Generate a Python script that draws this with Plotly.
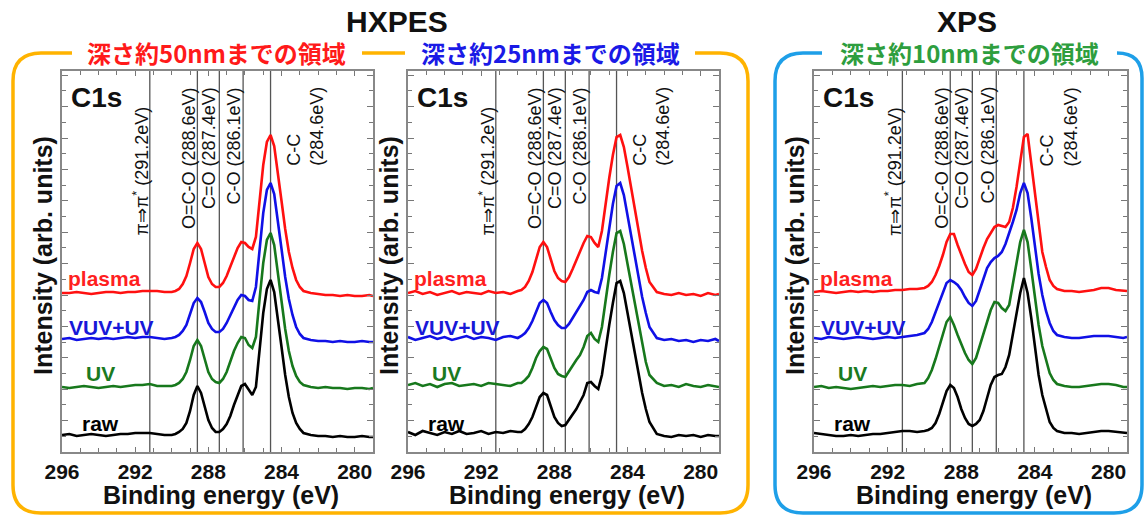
import plotly.graph_objects as go

W, H = 1146, 517

# ---------------- data ----------------
energy = [296.0, 295.6, 295.2, 294.8, 294.4, 294.0, 293.6, 293.2, 292.8, 292.4, 292.0, 291.6, 291.2, 290.8, 290.4, 290.0,
          289.8, 289.6, 289.4, 289.2, 289.0, 288.8, 288.6, 288.4, 288.2, 288.0, 287.8, 287.6, 287.4, 287.2, 287.0, 286.8,
          286.6, 286.4, 286.2, 286.0, 285.8, 285.6, 285.4, 285.2, 285.0, 284.8, 284.6, 284.4, 284.2, 284.0, 283.8, 283.6,
          283.4, 283.2, 283.0, 282.8,
          282.4, 282.0, 281.6, 281.2, 280.8, 280.4, 280.0, 279.6, 279.2, 279.0]

series_names = ["raw", "UV", "VUV+UV", "plasma"]

# HXPES, depth ~50 nm
hx50_raw = [0, 1, -1, 0, 1, 0, -1, 0, 1, 1, 2, 2, 2, 1, 0, 0,
            1, 3, 6, 12, 24, 40, 49, 42, 28, 15, 7, 3, 3, 6, 11, 19,
            30, 40, 49, 51, 46, 40, 48, 85, 122, 146, 155, 143, 118, 88, 60, 38,
            22, 12, 6, 2,
            0, -1, -1, -2, -1, -2, -2, -1, -2, -2]
hx50_uv = [0, -1, 0, 1, 0, -1, 0, 1, 0, 1, 2, 2, 3, 1, 1, 1,
           2, 4, 8, 15, 27, 41, 47, 41, 28, 15, 8, 5, 4, 8, 15, 26,
           36, 44, 50, 49, 42, 39, 50, 88, 124, 147, 154, 142, 116, 86, 58, 36,
           21, 11, 5, 2,
           0, -1, 0, -1, -1, -2, -1, -1, -2, -1]
hx50_vuv = [0, 1, -1, 0, 1, 0, 1, 0, 1, 2, 1, 2, 2, 1, 0, 1,
            2, 4, 8, 14, 24, 36, 41, 37, 27, 16, 10, 7, 7, 10, 16, 24,
            32, 39, 44, 43, 39, 38, 52, 90, 126, 149, 156, 145, 120, 90, 62, 40,
            24, 12, 5, 1,
            -1, -2, -2, -3, -2, -3, -3, -2, -3, -3]
hx50_plasma = [0, 0, 1, 0, -1, 0, 1, 1, 0, 1, 1, 2, 2, 2, 1, 1,
               2, 4, 9, 17, 30, 44, 50, 44, 30, 16, 9, 6, 6, 10, 17, 27,
               37, 45, 51, 50, 46, 44, 56, 92, 128, 151, 158, 147, 122, 92, 64, 41,
               25, 13, 6, 2,
               0, -1, -2, -2, -3, -2, -3, -3, -2, -3]

# HXPES, depth ~25 nm
hx25_raw = [1, -2, 2, 0, -2, 1, -1, 2, -1, 0, 2, -1, 1, 0, 2, 1,
            1, 4, 9, 16, 26, 36, 40, 38, 27, 16, 10, 7, 8, 13, 18, 24,
            31, 38, 50, 51, 47, 44, 58, 84, 108, 130, 150, 152, 140, 120, 100, 79,
            58, 40, 24, 11,
            -1, -3, -4, -2, -3, -2, -4, -2, -3, -3]
hx25_uv = [0, 2, -1, 1, -2, 1, 2, -1, 0, 1, -1, 2, 1, 0, -1, 2,
           2, 5, 9, 17, 27, 34, 38, 36, 26, 17, 11, 9, 8, 14, 20, 25,
           30, 38, 49, 52, 46, 43, 58, 85, 110, 133, 152, 154, 141, 121, 101, 80,
           59, 40, 23, 10,
           2, -1, 0, -2, 1, -1, -2, 0, -1, -2]
hx25_vuv = [1, -2, 0, 2, -1, 1, -2, 0, 2, -1, 1, 0, -2, 1, 2, 0,
            2, 5, 10, 17, 27, 35, 38, 35, 26, 18, 13, 10, 10, 14, 20, 26,
            32, 38, 46, 48, 46, 45, 60, 86, 111, 134, 152, 155, 143, 123, 102, 81,
            60, 41, 25, 11,
            0, -2, -1, -3, -2, -4, -2, -3, -1, -3]
hx25_plasma = [0, 2, -1, 1, -2, 0, 2, -1, 1, 0, -1, 2, 0, 1, -1, 2,
               3, 6, 12, 21, 34, 46, 51, 46, 34, 22, 15, 12, 11, 16, 24, 33,
               42, 50, 57, 56, 50, 46, 62, 90, 115, 138, 156, 158, 146, 126, 105, 83,
               62, 42, 25, 11,
               1, -1, -2, 0, -2, -1, -3, 0, -2, -1]

# XPS, depth ~10 nm
xps10_raw = [0, -1, -2, -3, -3, -2, -3, -2, -1, -1, 0, 1, 2, 2, 1, 2,
             3, 5, 10, 19, 30, 42, 48, 45, 36, 24, 15, 9, 7, 9, 13, 22,
             35, 48, 56, 58, 59, 66, 78, 98, 118, 140, 155, 140, 115, 88, 58, 38,
             23, 11, 5, 2,
             0, 0, -1, 0, 1, 2, 2, 1, 0, 0]
xps10_uv = [0, 1, -1, 0, -1, -2, -1, 0, 1, 0, 1, 2, 2, 1, 3, 4,
            9, 17, 28, 41, 54, 65, 70, 62, 52, 43, 34, 27, 23, 29, 41, 53,
            65, 77, 85, 84, 79, 76, 82, 104, 124, 145, 157, 145, 118, 90, 62, 41,
            26, 14, 7, 3,
            1, 0, 0, 1, 2, 3, 3, 2, 0, 0]
xps10_vuv = [0, -1, 1, 0, -1, 0, 1, 0, -1, 0, 1, 0, 1, 2, 3, 5,
             9, 16, 26, 37, 47, 55, 58, 56, 53, 48, 41, 35, 32, 37, 48, 59,
             70, 76, 80, 82, 86, 94, 104, 116, 128, 145, 155, 145, 120, 92, 64, 43,
             27, 15, 7, 3,
             1, 0, 0, 1, 2, 2, 2, 1, 0, 1]
xps10_plasma = [0, 1, 0, -1, 0, 1, 0, 1, 0, 1, 1, 2, 2, 3, 3, 4,
                6, 10, 17, 26, 37, 50, 58, 58, 47, 37, 28, 20, 17, 23, 34, 44,
                53, 59, 65, 67, 66, 65, 70, 84, 105, 132, 155, 158, 128, 104, 70, 40,
                25, 12, 6, 3,
                1, 1, 0, 1, 2, 4, 4, 2, 1, 1]

offsets_hx50 = [17, 65, 113, 159]
offsets_hx25 = [19, 67, 114, 159]
offsets_xps10 = [19, 65, 114, 160]

peak_energies = [291.2, 288.6, 287.4, 286.1, 284.6]
peak_labels = ["π⇒π<sup>*</sup> (291.2eV)", "O=C-O (288.6eV)", "C=O (287.4eV)",
               "C-O (286.1eV)", "C-C<br>(284.6eV)"]
x_tick_vals = [296, 292, 288, 284, 280]

panel_data = [
    ([hx50_raw, hx50_uv, hx50_vuv, hx50_plasma], offsets_hx50),
    ([hx25_raw, hx25_uv, hx25_vuv, hx25_plasma], offsets_hx25),
    ([xps10_raw, xps10_uv, xps10_vuv, xps10_plasma], offsets_xps10),
]

# ---------------- styling ----------------
line_colors = ["#000000", "#17781c", "#1010e6", "#ff1010"]
label_colors = ["#000000", "#1a7a1f", "#1818d8", "#ff1f1f"]
FONT = "Arial, Liberation Sans, sans-serif"
CJK = "Noto Sans CJK JP, sans-serif"

plot_px = [(62, 373), (408, 719), (814, 1127)]
top_px, bot_px = 71, 452


def px(x):
    return x / W


def py(y):
    return 1 - y / H


fig = go.Figure()
layout = dict(width=W, height=H, margin=dict(l=0, r=0, t=0, b=0, autoexpand=False),
              plot_bgcolor="white", paper_bgcolor="white", showlegend=False)
annotations = []
shapes = []

for i, (series, offs) in enumerate(panel_data):
    n = "" if i == 0 else str(i + 1)
    xa, ya = "x" + n, "y" + n
    for j, vals in enumerate(series):
        fig.add_trace(go.Scatter(x=energy, y=[v + offs[j] for v in vals], mode="lines",
                                 line=dict(color=line_colors[j], width=2.6),
                                 xaxis=xa, yaxis=ya, name=series_names[j], hoverinfo="skip"))
    l, r = plot_px[i]
    layout["xaxis" + n] = dict(domain=[px(l), px(r)], range=[296, 279], anchor=ya,
                               tickvals=x_tick_vals, ticks="inside", ticklen=5, tickwidth=1.2,
                               tickcolor="#777", showline=True, linecolor="#888", linewidth=1.5,
                               mirror="ticks", showgrid=False, zeroline=False, automargin=False,
                               minor=dict(dtick=1, tick0=296, ticks="inside", ticklen=4,
                                          tickcolor="#777", tickwidth=1.2, showgrid=False),
                               tickfont=dict(family=FONT, size=21, color="#111", weight="bold"),
                               fixedrange=True)
    layout["yaxis" + n] = dict(domain=[py(bot_px), py(top_px)], range=[0, 381], anchor=xa,
                               showticklabels=False, ticks="inside", dtick=31.4, tick0=0,
                               ticklen=6, tickwidth=1.2, tickcolor="#777", automargin=False,
                               showline=True, linecolor="#888", linewidth=1.5, mirror="ticks",
                               showgrid=False, zeroline=False,
                               minor=dict(dtick=15.7, tick0=0, ticks="inside", ticklen=4,
                                          tickcolor="#777", tickwidth=1.2, showgrid=False),
                               fixedrange=True)
    for e in peak_energies:
        shapes.append(dict(type="line", xref=xa, yref=ya + " domain", x0=e, x1=e, y0=0, y1=1,
                           line=dict(color="#555", width=1.3), layer="below"))
    # peak labels (rotated)
    lab_x = [291.68, 289.06, 287.97, 286.6, 282.7]
    lab_top = [347, 367, 367, 367, 367]
    for k, t in enumerate(peak_labels):
        annotations.append(dict(xref=xa, yref=ya, x=lab_x[k], y=lab_top[k], text=t,
                                textangle=-90, xanchor="center", yanchor="top", align="left",
                                showarrow=False,
                                font=dict(family=FONT, size=18, color="#111")))
    annotations.append(dict(xref=xa, yref=ya, x=295.62, y=355, text="C1s", xanchor="left",
                            yanchor="middle", showarrow=False,
                            font=dict(family=FONT, size=28, color="#111", weight="bold")))
    lbl_x = [295.0, 294.8, 295.75, 295.8]
    lbl_y = [29, 79, 125, 174]
    for j, nm in enumerate(series_names):
        annotations.append(dict(xref=xa, yref=ya, x=lbl_x[j], y=lbl_y[j], text=nm,
                                xanchor="left", yanchor="middle", showarrow=False,
                                font=dict(family=FONT, size=21, color=label_colors[j], weight="bold")))
    # axis titles
    annotations.append(dict(xref="paper", yref="paper", x=px((l + r) / 2 + 3), y=py(495),
                            text="Binding energy (eV)", showarrow=False, xanchor="center",
                            yanchor="middle",
                            font=dict(family=FONT, size=25, color="#111", weight="bold")))
    annotations.append(dict(xref="paper", yref="paper", x=px(l - 19), y=py(256),
                            text="Intensity (arb. units)", textangle=-90, showarrow=False,
                            xanchor="center", yanchor="middle",
                            font=dict(family=FONT, size=25, color="#111", weight="bold")))

# headers
annotations.append(dict(xref="paper", yref="paper", x=px(397), y=py(22), text="HXPES",
                        xanchor="center", yanchor="middle", showarrow=False,
                        font=dict(family=FONT, size=30, color="#111", weight="bold")))
annotations.append(dict(xref="paper", yref="paper", x=px(967), y=py(22), text="XPS",
                        xanchor="center", yanchor="middle", showarrow=False,
                        font=dict(family=FONT, size=30, color="#111", weight="bold")))
subs = [("深さ約50nmまでの領域", "#ff1a1a", 216), ("深さ約25nmまでの領域", "#1a1ae6", 550),
        ("深さ約10nmまでの領域", "#2e9e3e", 969)]
for t, c, x in subs:
    annotations.append(dict(xref="paper", yref="paper", x=px(x), y=py(53), text=t,
                            xanchor="center", yanchor="middle", showarrow=False,
                            font=dict(family=CJK, size=24, color=c, weight="bold")))


def path(cmds):
    out = []
    for c in cmds:
        if isinstance(c, str):
            out.append(c)
        else:
            out.append(f"{px(c[0]):.5f},{py(c[1]):.5f}")
    return " ".join(out)


R = 28
oL, oR, T, B = 13, 748, 53, 513
orange = path(["M", (72, T), "L", (oL + R, T), "Q", (oL, T), (oL, T + R), "L", (oL, B - R),
               "Q", (oL, B), (oL + R, B), "L", (oR - R, B), "Q", (oR, B), (oR, B - R),
               "L", (oR, T + R), "Q", (oR, T), (oR - R, T), "L", (695, T)])
orange2 = path(["M", (362, T), "L", (405, T)])
bL, bR = 775, 1142
blue = path(["M", (822, T), "L", (bL + R, T), "Q", (bL, T), (bL, T + R), "L", (bL, B - R),
             "Q", (bL, B), (bL + R, B), "L", (bR - R, B), "Q", (bR, B), (bR, B - R),
             "L", (bR, T + 25), "Q", (bR, T), (bR - 25, T)])
for p_, col in [(orange, "#ffb300"), (orange2, "#ffb300"), (blue, "#1e9fe8")]:
    shapes.append(dict(type="path", xref="paper", yref="paper", path=p_,
                       line=dict(color=col, width=3.5)))

layout["annotations"] = annotations
layout["shapes"] = shapes
fig.update_layout(**layout)
fig.write_html("out.html", config={"displayModeBar": False},
               post_script="document.body.style.margin='0';document.body.style.padding='0';")
